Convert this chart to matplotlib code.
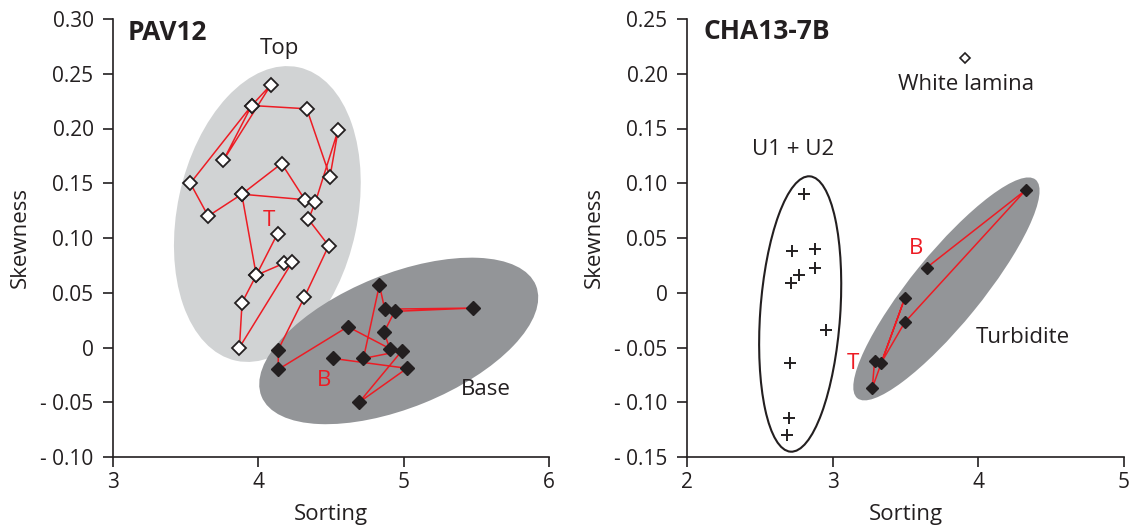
import matplotlib
matplotlib.use("Agg")
import matplotlib.pyplot as plt
from matplotlib.patches import Ellipse
from matplotlib.transforms import Affine2D

plt.rcParams['font.family'] = ['Open Sans', 'DejaVu Sans']

# ---------------- data ----------------
# PAV12: samples in stratigraphic order (Top part, white diamonds)
top_sorting = [4.132, 3.986, 4.178, 4.233, 3.870, 3.888, 3.986, 3.886, 4.160, 4.320,
               3.886, 3.655, 3.532, 3.954, 4.087, 3.760, 3.954, 4.333, 4.493, 4.550,
               4.393, 4.345, 4.484, 4.317]
top_skewness = [0.104, 0.066, 0.077, 0.078, 0.000, 0.041, 0.066, 0.140, 0.168, 0.135,
                0.140, 0.120, 0.150, 0.221, 0.240, 0.171, 0.221, 0.218, 0.156, 0.199,
                0.133, 0.117, 0.093, 0.046]
# PAV12: Base part (black diamonds)
base_sorting = [4.137, 4.137, 4.616, 4.904, 4.865, 4.938, 5.475, 4.870, 4.833, 4.723,
                4.988, 4.694, 5.023, 4.514]
base_skewness = [-0.002, -0.020, 0.019, -0.001, 0.014, 0.033, 0.036, 0.035, 0.057, -0.010,
                 -0.003, -0.050, -0.019, -0.010]

# CHA13-7B: turbidite samples (T -> B)
turb_sorting = [3.288, 3.272, 3.495, 3.333, 3.495, 4.327, 3.646]
turb_skewness = [-0.062, -0.087, -0.005, -0.064, -0.027, 0.094, 0.023]
# CHA13-7B: U1 + U2 samples
u_sorting = [2.801, 2.721, 2.877, 2.879, 2.769, 2.717, 2.952, 2.705, 2.699, 2.687]
u_skewness = [0.090, 0.0385, 0.040, 0.023, 0.016, 0.009, -0.034, -0.064, -0.114, -0.130]
# CHA13-7B: white lamina
lamina_sorting = [3.911]
lamina_skewness = [0.214]

left_yticks = [-0.10, -0.05, 0, 0.05, 0.10, 0.15, 0.20, 0.25, 0.30]
left_ylabels = ['- 0.10', '- 0.05', '0', '0.05', '0.10', '0.15', '0.20', '0.25', '0.30']
left_xticks = [3, 4, 5, 6]
right_yticks = [-0.15, -0.10, -0.05, 0, 0.05, 0.10, 0.15, 0.20, 0.25]
right_ylabels = ['- 0.15', '- 0.10', '- 0.05', '0', '0.05', '0.10', '0.15', '0.20', '0.25']
right_xticks = [2, 3, 4, 5]

# ---------------- style ----------------
RED = '#ed1c24'
INK = '#231f20'
LIGHT = '#d1d3d4'
DARK = '#939598'
TICK_FS = 15
LABEL_FS = 16
TITLE_FS = 19

W, H = 1132, 530
fig = plt.figure(figsize=(W / 100, H / 100), dpi=100)
ax1 = fig.add_axes([113 / W, 73 / H, 436 / W, 438 / H])
ax2 = fig.add_axes([687 / W, 73 / H, 437 / W, 438 / H])


def style_axes(ax, xlim, ylim, xticks, yticks, ylabels):
    ax.set_xlim(*xlim)
    ax.set_ylim(*ylim)
    for s in ['top', 'right']:
        ax.spines[s].set_visible(False)
    for s in ['left', 'bottom']:
        ax.spines[s].set_linewidth(1.2)
        ax.spines[s].set_color(INK)
    ax.set_xticks(xticks)
    ax.set_xticklabels([str(t) for t in xticks])
    ax.set_yticks(yticks)
    ax.set_yticklabels(ylabels)
    ax.tick_params(direction='out', length=7, width=1.2, color=INK,
                   labelsize=TICK_FS, labelcolor=INK)
    ax.tick_params(axis='y', pad=7)
    ax.tick_params(axis='x', pad=4)
    ax.set_xlabel('Sorting', fontsize=LABEL_FS, color=INK, labelpad=8)
    ax.set_ylabel('Skewness', fontsize=LABEL_FS, color=INK, labelpad=7)
    ax.patch.set_alpha(0)


def add_ellipse(ax, cx, cy, a_px, b_px, angle, **kw):
    # ellipse defined in pixel-proportional space, placed at data centre
    pos = ax.get_position()
    x0, x1 = ax.get_xlim()
    y0, y1 = ax.get_ylim()
    sx = pos.width * W / (x1 - x0)
    sy = pos.height * H / (y1 - y0)
    tr = Affine2D().scale(1 / sx, 1 / sy) + ax.transData
    e = Ellipse((cx * sx, cy * sy), 2 * a_px, 2 * b_px, angle=angle, transform=tr, **kw)
    ax.add_patch(e)


# ---------------- left panel ----------------
style_axes(ax1, (3, 6), (-0.10, 0.30), left_xticks, left_yticks, left_ylabels)
add_ellipse(ax1, 4.062, 0.1219, 150, 90, 78, facecolor=LIGHT, edgecolor='none', zorder=1)
add_ellipse(ax1, 4.966, 0.0060, 148, 67, 22, facecolor=DARK, edgecolor='none', zorder=1)

all_s = top_sorting + base_sorting
all_k = top_skewness + base_skewness
ax1.plot(all_s, all_k, color=RED, lw=1.1, zorder=3)
ax1.plot(top_sorting, top_skewness, linestyle='none', marker='D', markersize=6.8,
         markerfacecolor='white', markeredgecolor=INK, markeredgewidth=1.3, zorder=4)
ax1.plot(base_sorting, base_skewness, linestyle='none', marker='D', markersize=6.8,
         markerfacecolor=INK, markeredgecolor=INK, markeredgewidth=1.0, zorder=4)

ax1.text(3.103, 0.288, 'PAV12', fontsize=TITLE_FS, fontweight='bold', color=INK,
         ha='left', va='center')
ax1.text(4.144, 0.2735, 'Top', fontsize=LABEL_FS, color=INK, ha='center', va='center')
ax1.text(5.562, -0.0388, 'Base', fontsize=LABEL_FS, color=INK, ha='center', va='center')
ax1.text(4.075, 0.1164, 'T', fontsize=LABEL_FS, color=RED, ha='center', va='center')
ax1.text(4.452, -0.0297, 'B', fontsize=LABEL_FS, color=RED, ha='center', va='center')

# ---------------- right panel ----------------
style_axes(ax2, (2, 5), (-0.15, 0.25), right_xticks, right_yticks, right_ylabels)
add_ellipse(ax2, 2.777, -0.0194, 138, 40, 86, facecolor='white', edgecolor=INK,
            linewidth=1.5, zorder=1)
add_ellipse(ax2, 3.781, 0.0035, 141, 35, 50.8, facecolor=DARK, edgecolor='none', zorder=1)

ax2.plot(turb_sorting, turb_skewness, color=RED, lw=1.1, zorder=3)
ax2.plot(turb_sorting, turb_skewness, linestyle='none', marker='D', markersize=6.5,
         markerfacecolor=INK, markeredgecolor=INK, markeredgewidth=1.0, zorder=4)
ax2.plot(u_sorting, u_skewness, linestyle='none', marker='+', markersize=9,
         markeredgecolor=INK, markeredgewidth=1.4, zorder=4)
ax2.plot(lamina_sorting, lamina_skewness, linestyle='none', marker='D', markersize=5.5,
         markerfacecolor='white', markeredgecolor=INK, markeredgewidth=1.2, zorder=4)

ax2.text(2.11, 0.2382, 'CHA13-7B', fontsize=TITLE_FS, fontweight='bold', color=INK,
         ha='left', va='center')
ax2.text(3.918, 0.1898, 'White lamina', fontsize=LABEL_FS, color=INK, ha='center', va='center')
ax2.text(2.726, 0.1304, 'U1 + U2', fontsize=LABEL_FS, color=INK, ha='center', va='center')
ax2.text(4.308, -0.0412, 'Turbidite', fontsize=LABEL_FS, color=INK, ha='center', va='center')
ax2.text(3.575, 0.040, 'B', fontsize=LABEL_FS, color=RED, ha='center', va='center')
ax2.text(3.137, -0.065, 'T', fontsize=LABEL_FS, color=RED, ha='center', va='center')

fig.savefig('out.png', dpi=100, facecolor='white')
